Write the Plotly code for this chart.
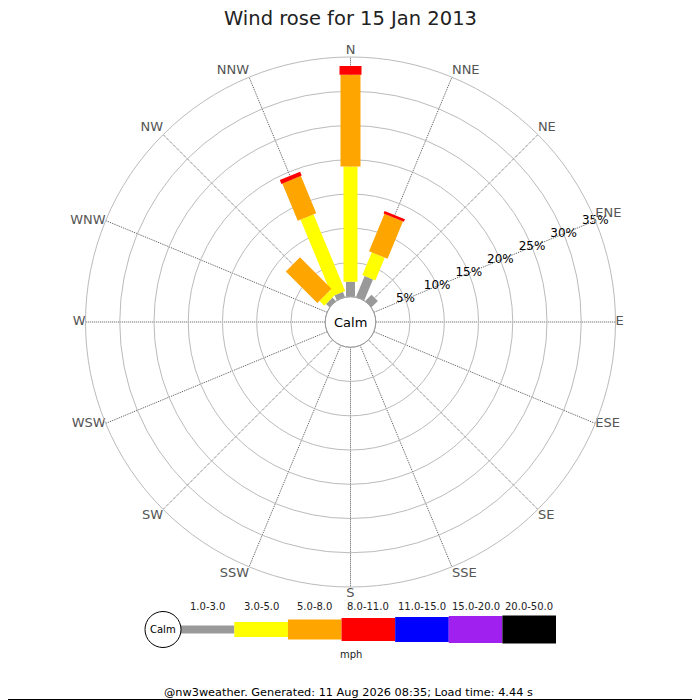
"""
Wind rose chart for a single day (nw3weather style)
"""
import math
import plotly.graph_objects as go

# Compass directions (clockwise from N)
directions = ['N', 'NNE', 'NE', 'ENE', 'E', 'ESE', 'SE', 'SSE',
              'S', 'SSW', 'SW', 'WSW', 'W', 'WNW', 'NW', 'NNW']

# Frequency (%) per direction for each speed band
band_1_3 = [2.2, 3.3, 1.3, 0, 0, 0, 0, 0, 0, 0, 0, 0, 0, 0, 0.7, 0.8]
band_3_5 = [16.8, 3.6, 0, 0, 0, 0, 0, 0, 0, 0, 0, 0, 0, 0, 1.0, 12.1]
band_5_8 = [13.4, 5.9, 0, 0, 0, 0, 0, 0, 0, 0, 0, 0, 0, 0, 6.5, 5.9]
band_8_11 = [1.3, 0.4, 0, 0, 0, 0, 0, 0, 0, 0, 0, 0, 0, 0, 0, 0.6]
band_11_15 = [0] * 16
band_15_20 = [0] * 16
band_20_50 = [0] * 16

band_labels = ['1.0-3.0', '3.0-5.0', '5.0-8.0', '8.0-11.0',
               '11.0-15.0', '15.0-20.0', '20.0-50.0']

radial_ticks = [5, 10, 15, 20, 25, 30, 35]

title_text = 'Wind rose for 15 Jan 2013'
footer_text = '@nw3weather. Generated: 11 Aug 2026 08:35; Load time: 4.44 s'

# Chart settings
CHART_CONFIG = {
    'font': 'DejaVu Sans',
    'band_colors': ['#999999', '#ffff00', '#ffa500', '#ff0000',
                    '#0000ff', '#a020f0', '#000000'],
    'bar_widths': [9, 14, 20, 22, 24, 26, 28],
    'legend_widths': [8, 15, 20, 23, 25, 27, 28],
    'ring_color': '#bbbbbb',
    'spoke_color': '#555555',
    'label_color': '#555555',
}

# The page body has an 8px margin, so the figure is 692px and
# every page position is shifted back by that margin.
OFF = 8
FIG = 692
CX, CY = 350.5, 322      # rose centre (page px)
R_OUT = 265              # outer ring radius (px)
R_CALM = 25.3            # calm circle radius (px)


def fx(p):
    """page x pixel -> paper fraction"""
    return (p - OFF) / FIG


def fy(p):
    """page y pixel -> paper fraction"""
    return 1 - (p - OFF) / FIG


def label_position(i):
    """textposition for a compass label, pushed outward from the ring"""
    a = math.radians(22.5 * i)
    dx, dy = math.sin(a), math.cos(a)
    # right-hand labels sit a little higher than the left-hand ones
    if dy > 0.5 or (dy > 0.3 and dx > 0):
        vert = 'top'
    elif dy < -0.5:
        vert = 'bottom'
    else:
        vert = 'middle'
    horiz = 'right' if dx > 0.3 else ('left' if dx < -0.3 else 'center')
    return f'{vert} {horiz}'


bands = [band_1_3, band_3_5, band_5_8, band_8_11,
         band_11_15, band_15_20, band_20_50]

fig = go.Figure()

# Stacked rose segments, drawn as thick radial lines
cumulative = [0.0] * len(directions)
for b, values in enumerate(bands):
    r_vals, t_vals = [], []
    for i, v in enumerate(values):
        if v <= 0:
            continue
        r_vals += [cumulative[i], cumulative[i] + v, None]
        t_vals += [directions[i], directions[i], None]
        cumulative[i] += v
    if not r_vals:
        continue
    fig.add_trace(go.Scatterpolar(
        r=r_vals, theta=t_vals, mode='lines',
        line=dict(color=CHART_CONFIG['band_colors'][b],
                  width=CHART_CONFIG['bar_widths'][b]),
        connectgaps=False, hoverinfo='skip', showlegend=False,
    ))

# Radial percentage labels along ENE
fig.add_trace(go.Scatterpolar(
    r=radial_ticks, theta=['ENE'] * len(radial_ticks),
    mode='text', text=[f'{v}%' for v in radial_ticks],
    textfont=dict(family=CHART_CONFIG['font'], size=12, color='#000000'),
    cliponaxis=False, hoverinfo='skip', showlegend=False,
))

# Compass labels just outside the outer ring
fig.add_trace(go.Scatterpolar(
    r=[radial_ticks[-1]] * len(directions), theta=directions,
    mode='text', text=directions,
    textposition=[label_position(i) for i in range(len(directions))],
    textfont=dict(family=CHART_CONFIG['font'], size=13,
                  color=CHART_CONFIG['label_color']),
    cliponaxis=False, hoverinfo='skip', showlegend=False,
))

# Legend strip (cartesian, hidden axes)
for i, label in enumerate(band_labels):
    fig.add_trace(go.Scatter(
        x=[i, i + 1], y=[0, 0], mode='lines',
        line=dict(color=CHART_CONFIG['band_colors'][i],
                  width=CHART_CONFIG['legend_widths'][i]),
        xaxis='x', yaxis='y', hoverinfo='skip', showlegend=False,
    ))


def text_note(x, y, text, size, color='#000000', xref='paper'):
    return dict(x=x, y=y, xref=xref, yref='paper', text=text, showarrow=False,
                xanchor='center', yanchor='middle',
                font=dict(family=CHART_CONFIG['font'], size=size, color=color))


annotations = [text_note(i + 0.5, fy(606.5), label, 10, '#222222', xref='x')
               for i, label in enumerate(band_labels)]
annotations += [
    text_note(fx(350.3), fy(18.5), title_text, 19.5, '#222222'),
    text_note(fx(CX), fy(CY), 'Calm', 13),
    text_note(fx(163), fy(629.5), 'Calm', 10),
    text_note(fx(350.5), fy(654), 'mph', 10, '#222222'),
    text_note(fx(348), fy(692.5), footer_text, 11.3),
]

shapes = [
    # calm circle in the rose centre
    dict(type='circle', xref='paper', yref='paper', xsizemode='pixel', ysizemode='pixel',
         xanchor=fx(CX), yanchor=fy(CY),
         x0=-R_CALM, x1=R_CALM, y0=-R_CALM, y1=R_CALM,
         line=dict(color='#999999', width=1)),
    # calm circle in the legend
    dict(type='circle', xref='paper', yref='paper', xsizemode='pixel', ysizemode='pixel',
         xanchor=fx(163), yanchor=fy(629.5),
         x0=-18, x1=18, y0=-18, y1=18,
         line=dict(color='#000000', width=1)),
    # image frame (right and bottom edges fall inside the figure)
    dict(type='line', xref='paper', yref='paper',
         x0=fx(699.5), x1=fx(699.5), y0=0, y1=1,
         line=dict(color='#000000', width=1)),
    dict(type='line', xref='paper', yref='paper',
         x0=0, x1=1, y0=fy(699.5), y1=fy(699.5),
         line=dict(color='#000000', width=1)),
]

fig.update_layout(
    width=FIG, height=FIG,
    margin=dict(l=0, r=0, t=0, b=0),
    paper_bgcolor='white', plot_bgcolor='white',
    font=dict(family=CHART_CONFIG['font']),
    polar=dict(
        domain=dict(x=[fx(CX - R_OUT), fx(CX + R_OUT)],
                    y=[fy(CY + R_OUT), fy(CY - R_OUT)]),
        hole=R_CALM / R_OUT,
        bgcolor='white',
        angularaxis=dict(
            type='category', categoryarray=directions,
            rotation=90, direction='clockwise',
            showline=True, linecolor=CHART_CONFIG['ring_color'], linewidth=1,
            showgrid=True, gridcolor=CHART_CONFIG['spoke_color'], griddash='1px,1px',
            gridwidth=1, ticks='', showticklabels=False,
        ),
        radialaxis=dict(
            range=[0, 35], tickvals=radial_ticks[:-1],
            showticklabels=False, showline=False, ticks='',
            gridcolor=CHART_CONFIG['ring_color'], gridwidth=1,
        ),
    ),
    xaxis=dict(domain=[fx(180.7), fx(556)], range=[0, 7], visible=False, fixedrange=True),
    yaxis=dict(domain=[fy(660), fy(599)], range=[-1, 1], visible=False, fixedrange=True),
    annotations=annotations,
    shapes=shapes,
)

fig.write_html("out.html")
